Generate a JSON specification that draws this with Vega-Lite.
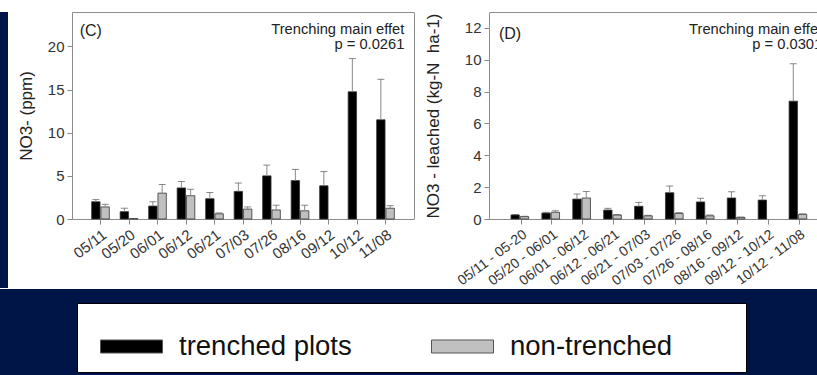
{
  "$schema": "https://vega.github.io/schema/vega-lite/v6.json",
  "background": "#ffffff",
  "padding": {"left": 0, "top": 11, "right": 0, "bottom": 0},
  "spacing": 0,
  "config": {
    "font": "Liberation Sans",
    "view": {"stroke": "#8c8c8c", "strokeWidth": 1},
    "axis": {
      "labelFont": "Liberation Sans", "titleFont": "Liberation Sans",
      "labelColor": "#333333", "titleColor": "#222222",
      "tickColor": "#888888", "tickSize": 5, "domain": false, "grid": false,
      "titleFontWeight": "normal", "labelFontSize": 15, "titleFontSize": 17, "labelPadding": 3,
      "labelOverlap": false
    },
    "legend": {
      "fillColor": "#ffffff", "strokeColor": "#000000", "padding": 12,
      "symbolType": "M-1,-0.21H1V0.21H-1Z", "symbolSize": 3844,
      "symbolStrokeColor": "#555555", "symbolStrokeWidth": 1, "symbolOffset": 11,
      "labelFont": "Liberation Sans", "labelFontSize": 27.5, "labelColor": "#111111",
      "labelOffset": 16, "labelLimit": 600, "columnPadding": 68
    }
  },
  "datasets": {
    "c": [
      {"date": "05/11", "group": "trenched plots", "value": 2.0, "hi": 2.25},
      {"date": "05/11", "group": "non-trenched", "value": 1.4, "hi": 1.7},
      {"date": "05/20", "group": "trenched plots", "value": 0.85, "hi": 1.25},
      {"date": "05/20", "group": "non-trenched", "value": 0.05},
      {"date": "06/01", "group": "trenched plots", "value": 1.5, "hi": 2.0},
      {"date": "06/01", "group": "non-trenched", "value": 3.0, "hi": 4.0},
      {"date": "06/12", "group": "trenched plots", "value": 3.6, "hi": 4.35},
      {"date": "06/12", "group": "non-trenched", "value": 2.7, "hi": 3.45},
      {"date": "06/21", "group": "trenched plots", "value": 2.35, "hi": 3.07},
      {"date": "06/21", "group": "non-trenched", "value": 0.6, "hi": 0.7},
      {"date": "07/03", "group": "trenched plots", "value": 3.2, "hi": 4.17},
      {"date": "07/03", "group": "non-trenched", "value": 1.15, "hi": 1.4},
      {"date": "07/26", "group": "trenched plots", "value": 5.0, "hi": 6.25},
      {"date": "07/26", "group": "non-trenched", "value": 1.05, "hi": 1.6},
      {"date": "08/16", "group": "trenched plots", "value": 4.45, "hi": 5.75},
      {"date": "08/16", "group": "non-trenched", "value": 0.95, "hi": 1.6},
      {"date": "09/12", "group": "trenched plots", "value": 3.85, "hi": 5.5},
      {"date": "10/12", "group": "trenched plots", "value": 14.75, "hi": 18.6},
      {"date": "11/08", "group": "trenched plots", "value": 11.5, "hi": 16.2},
      {"date": "11/08", "group": "non-trenched", "value": 1.25, "hi": 1.55}
    ],
    "d": [
      {"period": "05/11 - 05-20", "group": "trenched plots", "value": 0.25, "hi": 0.28},
      {"period": "05/11 - 05-20", "group": "non-trenched", "value": 0.15, "hi": 0.17},
      {"period": "05/20 - 06/01", "group": "trenched plots", "value": 0.37, "hi": 0.42},
      {"period": "05/20 - 06/01", "group": "non-trenched", "value": 0.42, "hi": 0.52},
      {"period": "06/01 - 06/12", "group": "trenched plots", "value": 1.25, "hi": 1.57},
      {"period": "06/01 - 06/12", "group": "non-trenched", "value": 1.32, "hi": 1.73},
      {"period": "06/12 - 06/21", "group": "trenched plots", "value": 0.56, "hi": 0.67},
      {"period": "06/12 - 06/21", "group": "non-trenched", "value": 0.25, "hi": 0.28},
      {"period": "06/21 - 07/03", "group": "trenched plots", "value": 0.8, "hi": 1.04},
      {"period": "06/21 - 07/03", "group": "non-trenched", "value": 0.2, "hi": 0.23},
      {"period": "07/03 - 07/26", "group": "trenched plots", "value": 1.65, "hi": 2.07},
      {"period": "07/03 - 07/26", "group": "non-trenched", "value": 0.35, "hi": 0.4},
      {"period": "07/26 - 08/16", "group": "trenched plots", "value": 1.07, "hi": 1.3},
      {"period": "07/26 - 08/16", "group": "non-trenched", "value": 0.2, "hi": 0.25},
      {"period": "08/16 - 09/12", "group": "trenched plots", "value": 1.32, "hi": 1.71},
      {"period": "08/16 - 09/12", "group": "non-trenched", "value": 0.1, "hi": 0.12},
      {"period": "09/12 - 10/12", "group": "trenched plots", "value": 1.19, "hi": 1.46},
      {"period": "10/12 - 11/08", "group": "trenched plots", "value": 7.4, "hi": 9.75},
      {"period": "10/12 - 11/08", "group": "non-trenched", "value": 0.29, "hi": 0.32}
    ]
  },
  "vconcat": [
    {
      "spacing": 8,
      "hconcat": [
        {
          "width": 8, "height": 276,
          "view": {"fill": "#001547", "stroke": null},
          "data": {"values": [{}]},
          "mark": {"type": "point", "opacity": 0},
          "encoding": {}
        },
        {
          "width": 342, "height": 207,
          "data": {"name": "c"},
          "encoding": {
            "x": {"field": "date", "type": "nominal", "sort": null, "title": null,
                  "scale": {"paddingInner": 0.38, "paddingOuter": 0.69},
                  "axis": {"labelAngle": -37, "labelFontSize": 15}}
          },
          "layer": [
            {
              "mark": {"type": "bar", "stroke": "#333333", "strokeWidth": 0.8},
              "encoding": {
                "xOffset": {"field": "group", "sort": ["trenched plots", "non-trenched"], "scale": {"paddingInner": 0.1}},
                "y": {"field": "value", "type": "quantitative", "scale": {"domain": [0, 24], "nice": false},
                      "axis": {"values": [0, 5, 10, 15, 20], "title": "NO3- (ppm)", "titlePadding": 12, "labelOverlap": false}},
                "color": {"field": "group", "type": "nominal", "title": null,
                          "scale": {"domain": ["trenched plots", "non-trenched"], "range": ["#000000", "#c0c0c0"]},
                          "legend": {"orient": "none", "legendX": 77, "legendY": 291, "direction": "horizontal", "title": null,
                                     "labelExpr": "datum.value == 'non-trenched' ? 'non-trenched        \u200b' : 'trenched plots'"}}
              }
            },
            {
              "transform": [{"filter": "datum.hi != null"}],
              "mark": {"type": "rule", "color": "#8a8a8a", "strokeWidth": 1},
              "encoding": {
                "xOffset": {"field": "group", "sort": ["trenched plots", "non-trenched"]},
                "y": {"field": "value", "type": "quantitative"},
                "y2": {"field": "hi"}
              }
            },
            {
              "transform": [{"filter": "datum.hi != null"}],
              "mark": {"type": "tick", "color": "#555555", "size": 7, "thickness": 1},
              "encoding": {
                "xOffset": {"field": "group", "sort": ["trenched plots", "non-trenched"]},
                "y": {"field": "hi", "type": "quantitative"}
              }
            },
            {
              "data": {"values": [{"t": "(C)"}]},
              "mark": {"type": "text", "align": "left", "baseline": "middle", "fontSize": 16, "dx": -12, "color": "#222222"},
              "encoding": {
                "x": {"datum": "05/11", "bandPosition": 0},
                "y": {"datum": 21.74},
                "text": {"field": "t"}
              }
            },
            {
              "data": {"values": [{"t": "Trenching main effet", "v": 21.86}, {"t": "p = 0.0261", "v": 20.12}]},
              "mark": {"type": "text", "align": "right", "baseline": "middle", "fontSize": 14.7, "dx": 10, "color": "#222222"},
              "encoding": {
                "x": {"datum": "11/08", "bandPosition": 1},
                "y": {"field": "v", "type": "quantitative"},
                "text": {"field": "t"}
              }
            }
          ]
        },
        {
          "width": 332, "height": 207,
          "data": {"name": "d"},
          "encoding": {
            "x": {"field": "period", "type": "nominal", "sort": null, "title": null,
                  "scale": {"paddingInner": 0.35, "paddingOuter": 0.547, "align": 0.65},
                  "axis": {"labelAngle": -37, "labelFontSize": 14}}
          },
          "layer": [
            {
              "mark": {"type": "bar", "stroke": "#333333", "strokeWidth": 0.8},
              "encoding": {
                "xOffset": {"field": "group", "sort": ["trenched plots", "non-trenched"], "scale": {"paddingInner": 0.1}},
                "y": {"field": "value", "type": "quantitative", "scale": {"domain": [0, 13], "nice": false},
                      "axis": {"values": [0, 2, 4, 6, 8, 10, 12], "tickCount": 7, "labelOverlap": false,
                               "title": "NO3 - leached (kg-N\u00a0 ha-1)", "titlePadding": 22}},
                "color": {"field": "group", "type": "nominal", "title": null,
                          "scale": {"domain": ["trenched plots", "non-trenched"], "range": ["#000000", "#c0c0c0"]},
                          "legend": {"orient": "none", "legendX": 77, "legendY": 291, "direction": "horizontal", "title": null,
                                     "labelExpr": "datum.value == 'non-trenched' ? 'non-trenched        \u200b' : 'trenched plots'"}}
              }
            },
            {
              "transform": [{"filter": "datum.hi != null"}],
              "mark": {"type": "rule", "color": "#8a8a8a", "strokeWidth": 1},
              "encoding": {
                "xOffset": {"field": "group", "sort": ["trenched plots", "non-trenched"]},
                "y": {"field": "value", "type": "quantitative", "axis": {"values": [0, 2, 4, 6, 8, 10, 12], "labelOverlap": false}},
                "y2": {"field": "hi"}
              }
            },
            {
              "transform": [{"filter": "datum.hi != null"}],
              "mark": {"type": "tick", "color": "#555555", "size": 7, "thickness": 1},
              "encoding": {
                "xOffset": {"field": "group", "sort": ["trenched plots", "non-trenched"]},
                "y": {"field": "hi", "type": "quantitative", "axis": {"values": [0, 2, 4, 6, 8, 10, 12], "labelOverlap": false}}
              }
            },
            {
              "data": {"values": [{"t": "(D)"}]},
              "mark": {"type": "text", "align": "left", "baseline": "middle", "fontSize": 16, "dx": -12, "color": "#222222"},
              "encoding": {
                "x": {"datum": "05/11 - 05-20", "bandPosition": 0},
                "y": {"datum": 11.62},
                "text": {"field": "t"}
              }
            },
            {
              "data": {"values": [{"t": "Trenching main effet", "v": 11.87}, {"t": "p = 0.0301", "v": 10.93}]},
              "mark": {"type": "text", "align": "right", "baseline": "middle", "fontSize": 14.7, "dx": 13, "color": "#222222"},
              "encoding": {
                "x": {"datum": "10/12 - 11/08", "bandPosition": 1},
                "y": {"field": "v", "type": "quantitative"},
                "text": {"field": "t"}
              }
            }
          ]
        }
      ]
    },
    {
      "width": 817, "height": 88,
      "view": {"fill": "#001547", "stroke": null},
      "data": {"values": [{}]},
      "mark": {"type": "point", "opacity": 0},
      "encoding": {}
    }
  ]
}
